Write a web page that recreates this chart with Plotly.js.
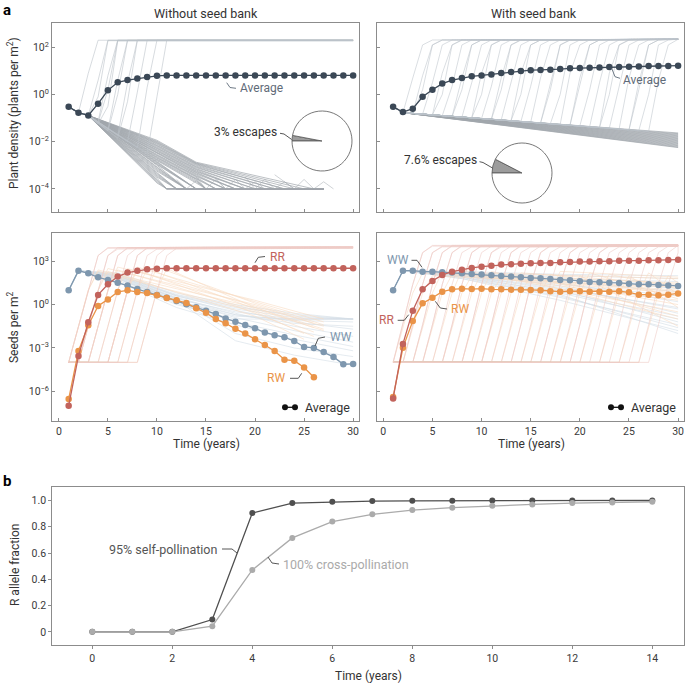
<!DOCTYPE html>
<html>
<head>
<meta charset="utf-8">
<script src="https://cdn.plot.ly/plotly-3.0.1.min.js"></script>
<style>
  html, body { margin: 0; padding: 0; background: #fff; }
  #chart { width: 685px; height: 683px; }
</style>
</head>
<body>
<div id="chart"></div>
<script>
// ---- data ----
const years = [1,2,3,4,5,6,7,8,9,10,11,12,13,14,15,16,17,18,19,20,21,22,23,24,25,26,27,28,29,30];
const timeTicks = [0,5,10,15,20,25,30];

// a, top: plant density averages
const tlAverage = [0.3,0.17,0.13,0.41,1.5,3.3,4.1,4.8,5.5,6.2,6.4,6.4,6.4,6.4,6.4,6.4,6.4,6.4,6.4,6.4,6.4,6.4,6.4,6.4,6.4,6.4,6.4,6.4,6.4,6.4];
const trAverage = [0.3,0.18,0.25,0.8,1.6,2.9,4.1,5.0,5.9,6.4,7.1,8.1,9.0,10,10.7,11,11.3,12,12.9,13.3,13.7,13.8,14.6,14.7,15,15.5,16,16.1,16.2,16.6];
const tlEscapePct = 3;
const trEscapePct = 7.6;

// single runs, as log10 values
const tlStartPath = [[1,-0.52],[2,-0.77],[3,-0.89]];
// escaping runs: [year it leaves the bundle, log value then, log value a year later, top log value]
const tlEscapes = [[2,-0.77,0.9,2.3],[3,-0.89,0.6,2.3],[3,-0.89,-0.1,2.28],[4,-1.15,0.8,2.3],[4,-1.2,0.2,2.3],[4,-1.25,-0.5,2.27],
  [5,-1.5,0.6,2.3],[5,-1.55,0.0,2.29],[6,-1.75,0.5,2.3],[6,-1.85,-0.3,2.3],[7,-2.0,0.1,2.3],[8,-2.25,0.3,2.3],[9,-2.5,-0.1,2.3]];
// dying runs: [log at year 10, log at year 14, year it hits the 1e-4 floor]
const tlDecays = [
  [-3.75,-4,11],[-3.7,-4,11],[-3.65,-4,11],[-3.6,-4,11],[-3.55,-4,11],[-3.5,-4,12],[-3.45,-4,12],[-3.4,-4,12],[-3.35,-4,12],[-3.3,-4,12],
  [-3.25,-4,13],[-3.2,-4,13],[-3.15,-4,13],[-3.1,-4,13],[-3.05,-4,13],[-3.0,-4,13],[-2.97,-4,14],[-2.94,-4,14],[-2.9,-4,14],[-2.87,-4,14],
  [-2.84,-4,14],[-2.8,-3.75,15],[-2.77,-3.7,15],[-2.74,-3.65,15],[-2.7,-3.6,15],[-2.67,-3.58,16],[-2.64,-3.55,16],[-2.6,-3.5,16],
  [-2.57,-3.47,17],[-2.54,-3.44,17],[-2.5,-3.4,17],[-2.47,-3.37,18],[-2.44,-3.33,18],[-2.4,-3.3,18],[-2.37,-3.27,19],[-2.34,-3.24,19],
  [-2.3,-3.2,19],[-2.27,-3.17,20],[-2.24,-3.14,20],[-2.2,-3.1,21],[-2.17,-3.07,21],[-2.14,-3.04,22],[-2.1,-3.0,22],[-2.07,-2.97,23],
  [-2.04,-2.94,23],[-2.01,-2.92,24],[-1.98,-2.9,25],[-1.94,-2.87,26]
];
const tlFloorNoise = [
  [[12,-3.6],[13,-4],[14,-3.65],[15,-4]],
  [[14,-3.5],[15,-4],[16,-3.6],[17,-4]],
  [[16,-3.55],[17,-4],[18,-3.6],[19,-4],[20,-3.7],[21,-4]],
  [[19,-3.5],[20,-4],[21,-3.6],[22,-4],[23,-3.7],[24,-4]],
  [[22,-3.4],[23,-3.7],[24,-4],[25,-3.6],[26,-4],[27,-3.7],[28,-4]]
];

const trTop = 2.34;
// log value at year 30 of each run that stays in the bundle
const trDecayEnd = [-1.63,-1.66,-1.69,-1.72,-1.75,-1.78,-1.81,-1.84,-1.87,-1.9,-1.93,-1.96,-1.99,-2.02,-2.05,-2.08,-2.11,-2.14,-2.17,-2.2,-2.23,-2.25];
const trEscapes = [[2,-0.77,0.7],[3,-0.8,0.2],[3,-0.8,0.8],[4,-0.83,0.5],[5,-0.86,0.0],[5,-0.86,0.9],[6,-0.9,0.35],
  [7,-0.93,0.7],[7,-0.93,0.2],[8,-0.96,0.5],[9,-0.99,0.0],[9,-0.99,0.9],[10,-1.02,0.35],[11,-1.05,0.7],[11,-1.05,0.2],
  [12,-1.08,0.5],[13,-1.11,0.0],[13,-1.11,0.9],[14,-1.15,0.35],[15,-1.18,0.7],[16,-1.21,0.2],[16,-1.21,0.5],
  [17,-1.24,0.0],[18,-1.27,0.9],[19,-1.3,0.35],[19,-1.3,0.7],[20,-1.33,0.2],[21,-1.36,0.5],[22,-1.4,0.0],
  [22,-1.4,0.9],[23,-1.43,0.35],[24,-1.46,0.7],[25,-1.5,0.2],[25,-1.5,0.5],[26,-1.53,0.0],[27,-1.56,0.6]];

// a, bottom: seeds per m2 averages
const blWW = [9.8,226,148,78,51,33,21,12,7.6,4.7,3.0,1.8,1.05,0.66,0.38,0.22,0.11,0.066,0.039,0.023,0.0115,0.0076,0.0055,0.003,0.00117,0.001,5.2e-4,2.4e-4,7.4e-5,7.8e-5];
const blRR = [1e-7,2.8e-4,0.06,4.7,25.7,87,165,226,280,310,330,330,330,330,330,330,330,330,330,330,330,330,330,330,330,330,330,330,330,330];
const blRW = [2.9e-7,6.2e-4,0.037,0.81,2.3,7.6,9.8,7.6,6.5,4.5,2.9,2.0,1.3,0.56,0.27,0.10,0.051,0.021,0.0098,0.004,0.0016,6.2e-4,1.55e-4,1.3e-4,4.4e-5,9.3e-6];
const brWW = [9.8,226,226,190,190,172,165,148,133,120,108,96,87,78,70,67,60,51,48,41,37,35,33,32,28,25.5,25.5,23,21,19.7];
const brRR = [3.2e-7,0.0019,0.38,11.5,44,113,190,263,347,427,501,589,617,690,724,760,760,851,900,950,950,1000,1000,1110,1110,1110,1170,1170,1240,1300];
const brRW = [4e-7,0.00105,0.074,1.23,3.0,7.9,11.5,12.8,12,12.8,11.5,11.5,10.9,10.9,10.4,9.9,8.4,7.9,8.4,8.4,7.9,7.9,7.9,8.4,7.1,4.9,4.9,4.4,4.9,6.0];

// single seed runs (log10): RR runs as [year leaving the floor, top log value]
const blRRRuns = [[1,4.0],[1,3.95],[2,4.0],[2,3.9],[3,4.0],[3,3.95],[4,4.0],[5,3.95],[5,4.0],[6,3.9],[7,4.0],[8,3.95]];
const blRWRuns = [[1,2.3,-0.5,25,-2.0],[1,2.4,-0.2,26,-1.6],[2,2.5,0.0,26,-1.3],[2,2.3,-0.8,25,-2.4],[3,2.6,0.3,27,-1.0],
  [3,2.4,-0.4,26,-1.9],[4,2.5,-0.1,27,-1.5],[5,2.6,0.2,27,-1.2],[5,2.4,-0.6,26,-2.2],[6,2.5,-0.3,27,-1.8],[7,2.6,0.1,27,-1.4],[8,2.5,-0.2,27,-1.7]];
// [log at yr 6, 12, 18, 24, 30]
const blWWRuns = [[2.0,0.6,-0.3,-0.9,-1.0],[1.9,0.4,-0.5,-1.0,-1.0],[2.1,0.7,-0.1,-0.8,-1.0],[1.8,0.2,-0.8,-1.0,-1.0],
  [1.7,0.0,-1.0,-1.0,-1.0],[2.0,0.5,-0.6,-1.5,-2.2],[1.9,0.3,-0.9,-1.8,-2.6],[1.8,0.1,-1.2,-2.1,-2.9],[2.2,0.8,0.0,-0.6,-1.0],
  [1.6,-0.2,-1.4,-2.4,-3.2],[2.1,0.6,-0.4,-1.2,-1.7],[1.95,0.45,-0.7,-1.3,-1.5],[1.8,0.3,-2.5,-3.5,-4.2],[2.0,0.4,-2.0,-3.0,-3.6],
  [2.05,0.65,-0.2,-0.7,-1.0],[1.85,0.25,-0.7,-1.1,-1.2]];

const brRRRuns = [[1,4.1],[1,4.15],[2,4.1],[2,4.05],[3,4.15],[3,4.1],[4,4.1],[4,4.15],[5,4.05],[6,4.1],[6,4.15],[7,4.1],[8,4.15],
  [8,4.05],[9,4.1],[10,4.15],[10,4.1],[11,4.05],[12,4.1],[13,4.15],[13,4.1],[14,4.05],[15,4.1],[16,4.15],[16,4.1],[17,4.05],
  [18,4.1],[19,4.15],[19,4.1],[20,4.05],[21,4.1],[22,4.15],[23,4.1],[24,4.05],[25,4.1],[26,4.1],[27,4.1]];
const brRWRuns = [[1,2.2,0.8],[2,2.0,1.2],[3,2.3,0.3],[4,2.1,1.5],[5,2.4,-0.5],[6,2.0,0.9],[7,2.2,1.8],[8,2.3,-1.0],
  [9,1.9,1.0],[10,2.1,0.0],[11,2.2,1.4],[12,2.0,-0.8],[14,2.1,0.6],[15,2.3,1.9],[17,2.0,-1.5],[18,2.2,0.4],
  [20,2.1,1.1],[22,2.0,-0.2],[24,2.2,0.7],[26,2.0,1.5]];
// [log at yr 8, 18, 30]
const brWWRuns = [[2.2,2.0,1.8],[2.1,1.7,1.4],[2.2,1.9,1.1],[2.0,1.4,0.6],[2.1,1.5,0.2],[2.0,1.2,-0.3],[1.9,0.9,-0.8],
  [2.0,1.0,-1.2],[1.8,0.6,-1.6],[1.9,0.7,-2.0],[2.1,1.3,-0.6],[2.0,0.8,-1.0],[1.9,0.5,-1.4],[2.2,1.8,1.6],
  [2.1,1.6,0.9],[1.8,0.3,-1.8],[2.0,1.1,-0.2],[2.3,2.1,2.0]];

// b: R allele fraction
const bYears = [0,1,2,3,4,5,6,7,8,9,10,11,12,13,14];
const selfPoll = [0,0,0,0.094,0.904,0.98,0.99,0.995,0.997,0.998,0.999,0.999,1,1,1];
const crossPoll = [0,0,0,0.043,0.471,0.715,0.839,0.894,0.927,0.945,0.96,0.97,0.98,0.985,0.99];

// ---- colours ----
const C = {
  avg: "#3b4856", grey: "#a0a6ac", greyEsc: "#bcc3ca",
  RR: "#c2635c", RW: "#ea9448", WW: "#7e97ae",
  bgRR: "#efcbc6", bgRW: "#f8dcc2", bgWW: "#d3dde6",
  selfC: "#4f4f4f", crossC: "#ababab", frame: "#8c8c8c", ink: "#333"
};

// ---- helpers ----
const W = 685, H = 683;
const px = x => x / W;
const py = y => 1 - y / H;
const traces = [];

function addLog(pts, ax, color, width){
  pts = pts.filter(p => p[0] <= 30);
  traces.push({
    type: "scatter", mode: "lines",
    x: pts.map(p => p[0]), y: pts.map(p => Math.pow(10, p[1])),
    xaxis: "x" + ax, yaxis: "y" + ax,
    line: { color: color, width: width || 0.5 },
    hoverinfo: "skip", showlegend: false
  });
}
function addAvg(xs, ys, ax, color, size){
  traces.push({
    type: "scatter", mode: "lines+markers", x: xs, y: ys,
    xaxis: "x" + ax, yaxis: "y" + ax,
    line: { color: color, width: 1.3 },
    marker: { color: color, size: size || 6.5 },
    hoverinfo: "skip", showlegend: false
  });
}

// ---- top left: without seed bank ----
tlDecays.forEach(d => {
  const pts = tlStartPath.slice();
  pts.push([10, d[0]]);
  if (d[2] > 14) pts.push([14, d[1]]);
  pts.push([d[2], -4], [27, -4]);
  addLog(pts, "", C.grey, 0.7);
});
tlFloorNoise.forEach(n => addLog(n, "", C.grey, 0.5));
tlEscapes.forEach(e => {
  const pts = tlStartPath.filter(p => p[0] < e[0]);
  pts.push([e[0], e[1]], [e[0] + 1, e[2]], [e[0] + 2, e[3]], [30, e[3]]);
  addLog(pts, "", C.greyEsc, 0.6);
});
addAvg(years, tlAverage, "", C.avg);

// ---- top right: with seed bank ----
trDecayEnd.forEach(v => addLog([[1,-0.52],[2,-0.77],[30,v]], "2", C.grey, 0.7));
trEscapes.forEach(e => {
  const pts = [[1,-0.52],[2,-0.77]];
  if (e[0] > 2) pts.push([e[0], e[1]]);
  pts.push([e[0] + 1, e[2]], [e[0] + 2, 2.1], [e[0] + 3, trTop - 0.03], [30, trTop]);
  addLog(pts, "2", C.greyEsc, 0.55);
});
addAvg(years, trAverage, "2", C.avg);

// ---- bottom left ----
blWWRuns.forEach(r => addLog([[1,0.99],[2,2.35],[6,r[0]],[12,r[1]],[18,r[2]],[24,r[3]],[30,r[4]]], "3", C.bgWW, 0.6));
blRWRuns.forEach(r => addLog([[1,-4],[r[0],-4],[r[0]+1,-1.5],[r[0]+2,1.0],[r[0]+3,r[1]],[20,r[2]],[r[3],r[4]]], "3", C.bgRW, 0.6));
blRRRuns.forEach(r => addLog([[1,-4],[r[0],-4],[r[0]+1,-1.5],[r[0]+2,1.0],[r[0]+3,3.4],[r[0]+4,r[1]-0.05],[30,r[1]]], "3", C.bgRR, 0.6));
addAvg(years, blWW, "3", C.WW);
addAvg(years.slice(0, blRW.length), blRW, "3", C.RW);
addAvg(years, blRR, "3", C.RR);

// ---- bottom right ----
brWWRuns.forEach(r => addLog([[1,0.99],[2,2.35],[8,r[0]],[18,r[1]],[30,r[2]]], "4", C.bgWW, 0.6));
brRWRuns.forEach(r => addLog([[1,-4],[r[0],-4],[r[0]+1,-1.6],[r[0]+2,0.8],[r[0]+3,r[1]],[30,r[2]]], "4", C.bgRW, 0.6));
brRRRuns.forEach(r => addLog([[1,-4],[r[0],-4],[r[0]+1,-1.4],[r[0]+2,1.4],[r[0]+3,3.6],[r[0]+4,r[1]-0.05],[30,r[1]]], "4", C.bgRR, 0.6));
addAvg(years, brWW, "4", C.WW);
addAvg(years, brRW, "4", C.RW);
addAvg(years, brRR, "4", C.RR);

// ---- b ----
addAvg(bYears, selfPoll, "5", C.selfC, 6);
addAvg(bYears, crossPoll, "5", C.crossC, 6);

// ---- escape pies ----
function pie(pct, x0, x1, y0, y1){
  return {
    type: "pie", values: [pct, 100 - pct], sort: false, direction: "clockwise", rotation: 270,
    marker: { colors: ["#9c9c9c", "#ffffff"], line: { color: "#555", width: 0.8 } },
    textinfo: "none", hoverinfo: "skip", showlegend: false,
    domain: { x: [px(x0), px(x1)], y: [py(y1), py(y0)] }
  };
}
traces.push(pie(tlEscapePct, 292, 352, 111, 171));
traces.push(pie(trEscapePct, 492, 552, 143, 203));

// ---- axes ----
function frame(extra){
  return Object.assign({
    showline: true, mirror: true, linecolor: C.frame, linewidth: 1,
    ticks: "inside", ticklen: 3, tickcolor: C.frame, showgrid: false, zeroline: false,
    tickfont: { size: 10.5, color: "#3a3a3a" }, fixedrange: true
  }, extra);
}
const topVals = [1e-4, 1e-2, 1, 100];
const topText = ["10<sup>−4</sup>", "10<sup>−2</sup>", "10<sup>0</sup>", "10<sup>2</sup>"];
const botVals = [1e-6, 1e-3, 1, 1000];
const botText = ["10<sup>−6</sup>", "10<sup>−3</sup>", "10<sup>0</sup>", "10<sup>3</sup>"];
const xL = [px(52), px(359)], xR = [px(377), px(684)];
const yT = [py(212), py(23)], yB = [py(421), py(233)];

// ---- text, leaders, legend keys ----
const ann = [];
function txt(x, y, text, opt){
  ann.push(Object.assign({
    xref: "paper", yref: "paper", x: px(x), y: py(y), text: text, showarrow: false,
    xanchor: "left", yanchor: "middle", font: { size: 12, color: C.ink }
  }, opt || {}));
}
const shapes = [];
function leader(pts, color){
  const d = pts.map((p, i) => (i ? "L" : "M") + px(p[0]) + "," + py(p[1])).join(" ");
  shapes.push({ type: "path", xref: "paper", yref: "paper", path: d, line: { color: color, width: 0.9 } });
}
function avgKey(x, y){
  shapes.push({ type: "line", xref: "paper", yref: "paper", x0: px(x), x1: px(x + 10), y0: py(y), y1: py(y), line: { color: "#111", width: 1.3 } });
  [x, x + 10].forEach(cx => shapes.push({
    type: "circle", xref: "paper", yref: "paper", x0: px(cx - 3), x1: px(cx + 3), y0: py(y + 3), y1: py(y - 3),
    fillcolor: "#111", line: { width: 0 }
  }));
  txt(x + 18, y, "Average", { font: { size: 12.5, color: C.ink } });
}

txt(1, 10, "<b>a</b>", { font: { size: 15, color: "#000" } });
txt(1, 481, "<b>b</b>", { font: { size: 15, color: "#000" } });
txt(206, 13, "Without seed bank", { xanchor: "center", font: { size: 12.5, color: C.ink } });
txt(534, 13, "With seed bank", { xanchor: "center", font: { size: 12.5, color: C.ink } });
txt(13, 113, "Plant density (plants per m<sup>2</sup>)", { xanchor: "center", textangle: -90, font: { size: 12, color: C.ink } });
txt(13, 328, "Seeds per m<sup>2</sup>", { xanchor: "center", textangle: -90, font: { size: 12, color: C.ink } });
txt(15, 565, "R allele fraction", { xanchor: "center", textangle: -90, font: { size: 12, color: C.ink } });
txt(206, 444, "Time (years)", { xanchor: "center" });
txt(531, 444, "Time (years)", { xanchor: "center" });
txt(368, 676, "Time (years)", { xanchor: "center" });

txt(238, 88, "Average", { font: { size: 12, color: "#5f6b78" } });
leader([[226.7,82.7],[230,87.5],[236,88.3]], "#5f6b78");
txt(621, 80, "Average", { font: { size: 12, color: "#5f6b78" } });
leader([[611.7,68.3],[615,76.7],[620,78.3]], "#5f6b78");
txt(278.5, 132, tlEscapePct + "% escapes", { xanchor: "right", font: { size: 12, color: C.ink } });
leader([[280,133.3],[284,134],[291.7,139.5]], "#444");
txt(478.5, 160, trEscapePct + "% escapes", { xanchor: "right", font: { size: 12, color: C.ink } });
leader([[479.5,161.7],[483,162.5],[492.5,168]], "#444");

txt(268, 256.7, "RR", { font: { size: 12, color: C.RR } });
leader([[255,262.7],[258.3,257.3],[265,256.5]], "#444");
txt(328, 337.3, "WW", { font: { size: 12, color: C.WW } });
leader([[315,346],[318.3,338.3],[325,337]], "#444");
txt(286.7, 378.3, "RW", { xanchor: "right", font: { size: 12, color: C.RW } });
leader([[290,378.3],[298.3,378.3],[301.7,373.3]], "#444");
avgKey(285, 407.3);

txt(410.5, 260.3, "WW", { xanchor: "right", font: { size: 12, color: C.WW } });
leader([[411.5,260.3],[417,260.3],[422,267.3]], "#444");
txt(395.5, 320.3, "RR", { xanchor: "right", font: { size: 12, color: C.RR } });
leader([[397.7,320.3],[404.3,320.3],[408.7,314.7]], "#444");
txt(449, 309, "RW", { font: { size: 12, color: C.RW } });
leader([[435.3,301.3],[440.3,308],[447,309]], "#444");
avgKey(611, 407.3);

txt(219, 549, "95% self-pollination", { xanchor: "right", font: { size: 12.5, color: "#555" } });
leader([[222,549],[232,549],[237,553]], "#444");
txt(280.5, 564.4, "100% cross-pollination", { font: { size: 12.5, color: "#aaa" } });
leader([[268,557],[272,563],[279,564]], "#444");

const layout = {
  width: W, height: H,
  margin: { l: 0, r: 0, t: 0, b: 0 },
  paper_bgcolor: "#fff", plot_bgcolor: "#fff",
  font: { family: "Roboto, 'Noto Sans', sans-serif", color: C.ink },
  showlegend: false,
  xaxis:  frame({ domain: xL, range: [-0.7, 30.6], tickvals: timeTicks, showticklabels: false, anchor: "y" }),
  yaxis:  frame({ domain: yT, type: "log", range: [-4.98, 3.03], tickvals: topVals, ticktext: topText, anchor: "x" }),
  xaxis2: frame({ domain: xR, range: [-0.64, 30.6], tickvals: timeTicks, showticklabels: false, anchor: "y2" }),
  yaxis2: frame({ domain: yT, type: "log", range: [-4.98, 3.03], tickvals: topVals, showticklabels: false, anchor: "x2" }),
  xaxis3: frame({ domain: xL, range: [-0.7, 30.6], tickvals: timeTicks, anchor: "y3" }),
  yaxis3: frame({ domain: yB, type: "log", range: [-8.06, 4.96], tickvals: botVals, ticktext: botText, anchor: "x3" }),
  xaxis4: frame({ domain: xR, range: [-0.64, 30.6], tickvals: timeTicks, anchor: "y4" }),
  yaxis4: frame({ domain: yB, type: "log", range: [-8.06, 4.96], tickvals: botVals, showticklabels: false, anchor: "x4" }),
  xaxis5: frame({ domain: [px(52.3), px(684.3)], range: [-1, 14.8], tickvals: [0,2,4,6,8,10,12,14], ticks: "outside", anchor: "y5" }),
  yaxis5: frame({ domain: [py(645), py(487.3)], range: [-0.1, 1.1], tickvals: [0,0.2,0.4,0.6,0.8,1],
                  ticktext: ["0","0.2","0.4","0.6","0.8","1.0"], ticks: "outside", anchor: "x5" }),
  annotations: ann,
  shapes: shapes
};

Plotly.newPlot("chart", traces, layout, { displayModeBar: false, staticPlot: true });
</script>
</body>
</html>
